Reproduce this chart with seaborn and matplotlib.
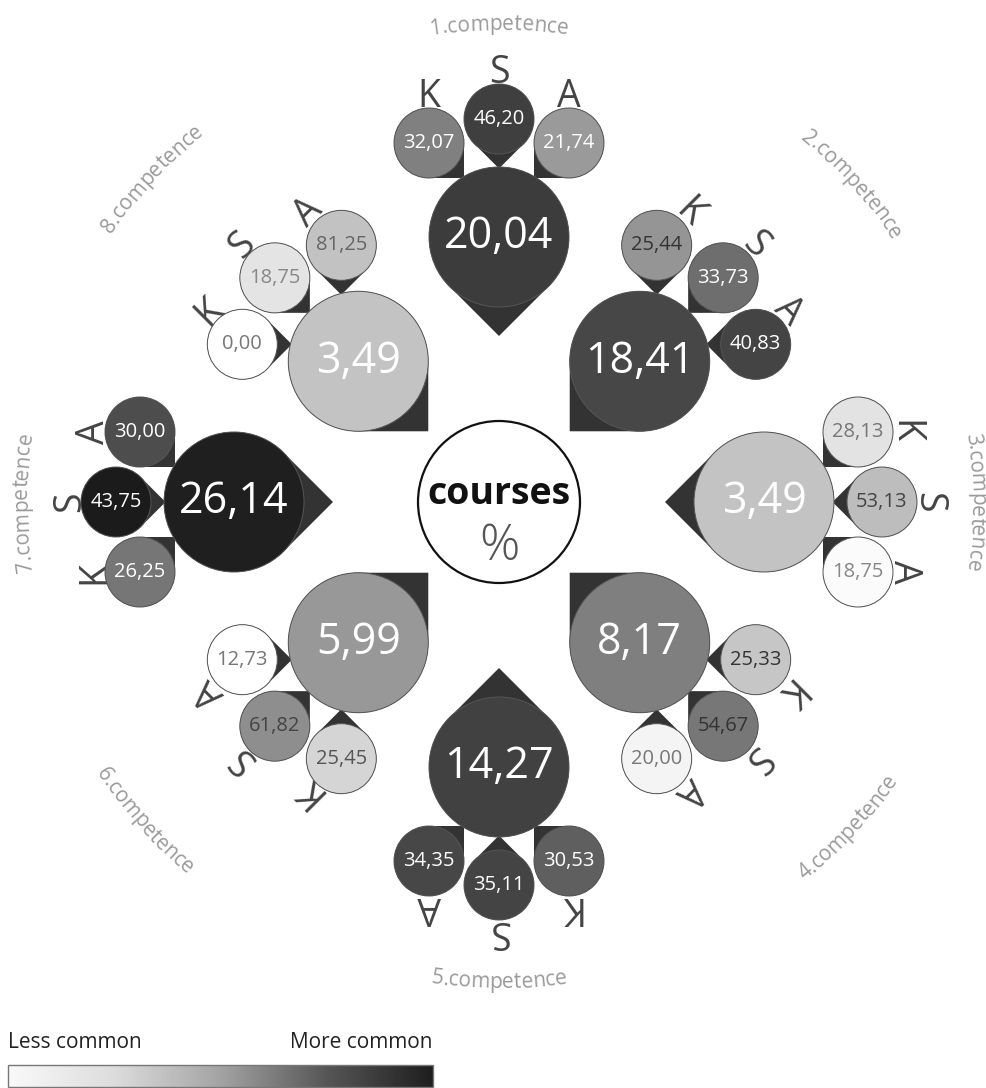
import numpy as np
import matplotlib
matplotlib.use("Agg")
import matplotlib.pyplot as plt
import seaborn as sns
from matplotlib.patches import Circle, Polygon
from matplotlib.cm import ScalarMappable
from matplotlib.colors import Normalize
from matplotlib.font_manager import FontProperties, findfont
from matplotlib.ft2font import FT2Font

# ---------------- data ----------------
competences = ["1.competence", "2.competence", "3.competence", "4.competence",
               "5.competence", "6.competence", "7.competence", "8.competence"]
course_pct = [20.04, 18.41, 3.49, 8.17, 14.27, 5.99, 26.14, 3.49]
k_pct = [32.07, 25.44, 28.13, 25.33, 30.53, 25.45, 26.25, 0.00]
s_pct = [46.20, 33.73, 53.13, 54.67, 35.11, 61.82, 43.75, 18.75]
a_pct = [21.74, 40.83, 18.75, 20.00, 34.35, 12.73, 30.00, 81.25]
sub_labels = ["K", "S", "A"]
center_title = "courses"
center_unit = "%"
legend_low = "Less common"
legend_high = "More common"

# ---------------- styles ----------------
main_fill = ["#3c3c3c", "#474747", "#c3c3c3", "#7f7f7f", "#414141", "#989898", "#1f1f1f", "#c3c3c3"]
k_fill = ["#808080", "#959595", "#e3e3e3", "#c6c6c6", "#5f5f5f", "#d5d5d5", "#767676", "#ffffff"]
k_txt = ["white", "#333333", "#777777", "#333333", "white", "#555555", "white", "#777777"]
s_fill = ["#3f3f3f", "#6e6e6e", "#bdbdbd", "#777777", "#444444", "#8e8e8e", "#1b1b1b", "#e4e4e4"]
s_txt = ["white", "white", "#444444", "#333333", "white", "#444444", "white", "#888888"]
a_fill = ["#9a9a9a", "#444444", "#fbfbfb", "#f4f4f4", "#474747", "#ffffff", "#4d4d4d", "#c2c2c2"]
a_txt = ["white", "white", "#888888", "#777777", "white", "#777777", "white", "#666666"]
label_angle = [0, 48, 90, 133, 180, 228, 270, 313]
TIP = "#333333"
EDGE = "#555555"

sns.set_theme(style="white")
plt.rcParams["font.family"] = ["Open Sans", "DejaVu Sans"]

W, H = 987, 1088
fig = plt.figure(figsize=(W / 100, H / 100), dpi=100)
ax = fig.add_axes([0, 0, 1, 1])
ax.set_xlim(0, W)
ax.set_ylim(H, 0)
ax.set_aspect("equal")
ax.axis("off")

C = np.array([499.0, 502.0])
R_MAIN, R_SMALL = 70.0, 35.0


def fmt(v):
    return f"{v:.2f}".replace(".", ",")


def teardrop(center, r, tipdir, fill, z):
    ang = np.arctan2(tipdir[1], tipdir[0])
    arc = np.linspace(ang + np.pi / 4, ang + 2 * np.pi - np.pi / 4, 90)
    pts = [(center[0] + r * np.cos(a), center[1] + r * np.sin(a)) for a in arc]
    pts.append((center[0] + r * np.sqrt(2) * np.cos(ang), center[1] + r * np.sqrt(2) * np.sin(ang)))
    ax.add_patch(Polygon(pts, closed=True, facecolor=TIP, edgecolor="none", zorder=z))
    ax.add_patch(Circle(center, r, facecolor=fill, edgecolor=EDGE, lw=0.7, zorder=z + 0.1))


# center circle
ax.add_patch(Circle(C, 81, facecolor="white", edgecolor="#111111", lw=1.6, zorder=5))
ax.text(C[0], C[1] + 2, center_title, ha="center", va="baseline", fontsize=27,
        fontweight="bold", color="#111111", zorder=6)
ax.text(C[0], C[1] + 58, center_unit, ha="center", va="baseline", fontsize=36,
        fontweight="light", color="#555555", zorder=6)

LAB_SIZE = 15
lab_prop = FontProperties(family=["Open Sans", "DejaVu Sans"], size=LAB_SIZE)
ft = FT2Font(findfont(lab_prop))
ft.set_size(LAB_SIZE, 100)


def char_adv(ch):
    g = ft.load_char(ord(ch))
    return g.linearHoriAdvance / 65536.0


for k in range(8):
    th = np.deg2rad(45 * k)
    u = np.array([np.sin(th), -np.cos(th)])
    v = np.array([np.cos(th), np.sin(th)])
    dist = 265 if k % 2 == 0 else 199
    mc = C + dist * u
    teardrop(mc, R_MAIN, -u, main_fill[k], 3)
    ax.text(mc[0], mc[1], fmt(course_pct[k]), ha="center", va="center", fontsize=31,
            color="white", zorder=4)

    subs = [
        (mc + 94 * u - 70 * v, (v - u) / np.sqrt(2), k_pct[k], k_fill[k], k_txt[k]),
        (mc + 118 * u, -u, s_pct[k], s_fill[k], s_txt[k]),
        (mc + 94 * u + 70 * v, (-v - u) / np.sqrt(2), a_pct[k], a_fill[k], a_txt[k]),
    ]
    for (sc, tdir, val, fc, tc), lab in zip(subs, sub_labels):
        lp = sc + 46 * u
        ax.text(lp[0], lp[1], lab, ha="center", va="center", fontsize=27, color="#444444",
                rotation=-45 * k, rotation_mode="anchor", zorder=1)
        teardrop(sc, R_SMALL, tdir, fc, 2)
        ax.text(sc[0], sc[1], fmt(val), ha="center", va="center", fontsize=14.5,
                color=tc, zorder=2.5)

    # curved competence label
    s = competences[k]
    advs = [char_adv(ch) for ch in s]
    starts = np.concatenate([[0.0], np.cumsum(advs)])
    total = starts[-1]
    ccw = k in (3, 4, 5)
    R = 486 if ccw else 472
    tl = np.deg2rad(label_angle[k])
    for i, ch in enumerate(s):
        off = starts[i] + advs[i] / 2 - total / 2
        if ccw:
            a = tl - off / R
            rot = 180 - np.rad2deg(a)
        else:
            a = tl + off / R
            rot = -np.rad2deg(a)
        p = C + R * np.array([np.sin(a), -np.cos(a)])
        ax.text(p[0], p[1], ch, fontproperties=lab_prop, color="#9a9a9a", ha="center",
                va="baseline", rotation=rot, rotation_mode="anchor")

# legend
ax.text(8, 1048, legend_low, ha="left", va="baseline", fontsize=15, color="#222222")
ax.text(433, 1048, legend_high, ha="right", va="baseline", fontsize=15, color="#222222")
cmap = sns.blend_palette(["#f9f9f9", "#dcdcdc", "#a3a3a3", "#565656", "#1e1e1e"], as_cmap=True)
cax = fig.add_axes([8 / W, (H - 1087) / H, 425 / W, 22 / H])
cb = fig.colorbar(ScalarMappable(norm=Normalize(0, 1), cmap=cmap), cax=cax, orientation="horizontal")
cb.set_ticks([])
cb.outline.set_edgecolor("#777777")
cb.outline.set_linewidth(1.0)

fig.savefig("out.png", dpi=100, facecolor="white")
